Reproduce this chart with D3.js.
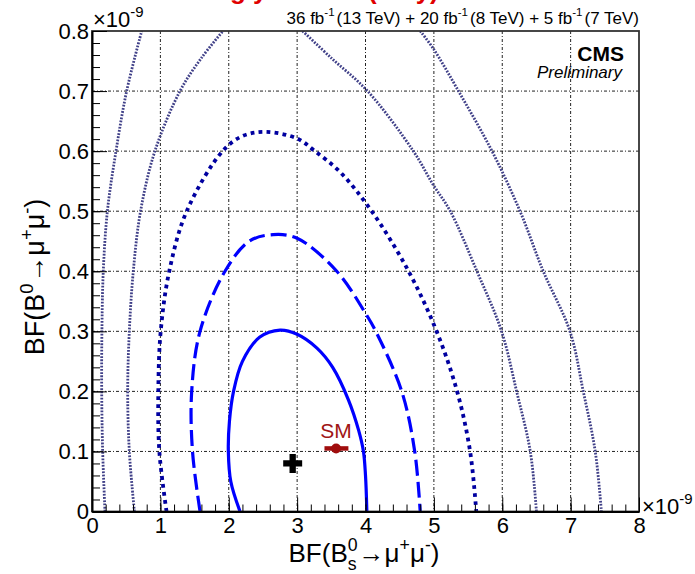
<!DOCTYPE html>
<html>
  <head>
    <style>
      body { margin: 0; background: #fff; }
      svg { font-family: "Liberation Sans", Arial, sans-serif; }
      .grid line { stroke: #222; stroke-width: 1; stroke-dasharray: 3,2,1,2; }
      .axis path, .axis line { stroke: #000; }
    </style>
    <script src="https://d3js.org/d3.v7.min.js"></script>
  </head>
  <body>
    <svg id="chart" width="695" height="574"></svg>

    <script>
      // values in units of 1e-9
      var xTicks = [0, 1, 2, 3, 4, 5, 6, 7, 8];
      var yTicks = [0, 0.1, 0.2, 0.3, 0.4, 0.5, 0.6, 0.7, 0.8];

      // 1 sigma (solid)
      var contour1 = [[2.165,0],[2.03,0.05],[1.994,0.1],[2.01,0.15],[2.07,0.2],[2.2,0.25],[2.45,0.29],
        [2.75,0.302],[3.0,0.295],[3.29,0.272],[3.52,0.24],[3.75,0.186],[3.90,0.135],[3.97,0.1],[4.0,0.06],[4.02,0]];
      // 2 sigma (dashed)
      var contour2 = [[1.58,0],[1.47,0.1],[1.458,0.2],[1.58,0.3],[1.945,0.4],[2.3,0.45],[2.65,0.461],
        [3.0,0.455],[3.58,0.4],[4.0,0.33],[4.15,0.3],[4.53,0.2],[4.72,0.1],[4.80,0]];
      // 3 sigma (thick dots)
      var contour3 = [[1.09,0],[0.985,0.1],[0.97,0.2],[1.005,0.3],[1.13,0.4],[1.385,0.5],[1.91,0.6],
        [2.2,0.625],[2.53,0.632],[3.0,0.621],[3.26,0.6],[3.63,0.565],[4.09,0.5],[4.63,0.4],[5.04,0.3],
        [5.34,0.2],[5.53,0.1],[5.62,0]];
      // 4 sigma (thin dots), two branches leaving the frame at the top
      var contour4L = [[0.62,0],[0.546,0.1],[0.522,0.2],[0.546,0.3],[0.604,0.4],[0.71,0.5],[0.92,0.6],
        [1.287,0.7],[1.60,0.755],[1.916,0.8]];
      var contour4R = [[3.08,0.8],[3.50,0.755],[4.03,0.70],[4.70,0.60],[4.99,0.544],[5.24,0.5],
        [5.63,0.4],[5.99,0.3],[6.21,0.2],[6.41,0.1],[6.50,0]];
      // 5 sigma (thin dots)
      var contour5L = [[0.19,0],[0.156,0.1],[0.142,0.2],[0.145,0.3],[0.165,0.4],[0.225,0.5],[0.351,0.6],
        [0.507,0.7],[0.727,0.8]];
      var contour5R = [[4.80,0.8],[4.99,0.771],[5.36,0.70],[5.85,0.60],[6.26,0.50],[6.60,0.40],
        [6.99,0.30],[7.185,0.20],[7.36,0.10],[7.45,0]];

      var bestFit = [2.935, 0.080];
      var smPoint = [3.57, 0.105];
      var smError = [3.40, 3.75];

      var svg = d3.select("#chart");
      var padL = 92, padR = 639, padT = 31, padB = 511.5;

      var x = d3.scaleLinear().domain([0, 8]).range([padL, padR]);
      var y = d3.scaleLinear().domain([0, 0.8]).range([padB, padT]);

      // helper for text built of several pieces (super/subscripts)
      function rich(parent, pieces, size) {
        var g = parent.append("g");
        var cx = 0;
        pieces.forEach(function(p) {
          var t = g.append("text")
            .attr("x", cx)
            .attr("y", (p.dy || 0) * size)
            .attr("font-size", size * (p.s || 1))
            .text(p.t);
          var w = t.node().getComputedTextLength();
          if (!p.stack) cx += w + (p.gap || 0);
        });
        return { g: g, width: cx };
      }

      // cut-off slide title at the very top
      svg.append("text").attr("x", 162).attr("y", -1).attr("font-size", 26)
        .attr("font-weight", "bold").attr("fill", "#e00000").text("Strongly");
      svg.append("text").attr("x", 368).attr("y", -1).attr("font-size", 26)
        .attr("font-weight", "bold").attr("fill", "#e00000").text("(only)");

      // grid
      var grid = svg.append("g").attr("class", "grid");
      grid.selectAll(".gx").data(xTicks.slice(1, -1)).enter().append("line")
        .attr("x1", d => x(d)).attr("x2", d => x(d)).attr("y1", padT).attr("y2", padB);
      grid.selectAll(".gy").data(yTicks.slice(1, -1)).enter().append("line")
        .attr("y1", d => y(d)).attr("y2", d => y(d)).attr("x1", padL).attr("x2", padR);

      // contours
      svg.append("clipPath").attr("id", "plotclip").append("rect")
        .attr("x", padL).attr("y", padT).attr("width", padR - padL).attr("height", padB - padT);

      var line = d3.line().x(d => x(d[0])).y(d => y(d[1])).curve(d3.curveCatmullRom.alpha(0.5));
      var plot = svg.append("g").attr("clip-path", "url(#plotclip)");

      function drawContour(data, color, width, dash) {
        plot.append("path").datum(data)
          .attr("d", line)
          .attr("fill", "none")
          .attr("stroke", color)
          .attr("stroke-width", width)
          .attr("stroke-dasharray", dash);
      }
      drawContour(contour5L, "#404088", 2.8, "1.8,1.4");
      drawContour(contour5R, "#404088", 2.8, "1.8,1.4");
      drawContour(contour4L, "#404088", 2.8, "1.8,1.4");
      drawContour(contour4R, "#404088", 2.8, "1.8,1.4");
      drawContour(contour3, "#0000a0", 3.8, "3.8,4.2");
      drawContour(contour2, "#0000ff", 3.2, "16,6");
      drawContour(contour1, "#0000ff", 3.2, null);

      // frame
      svg.append("rect").attr("x", padL).attr("y", padT)
        .attr("width", padR - padL).attr("height", padB - padT)
        .attr("fill", "none").attr("stroke", "#333").attr("stroke-width", 1.8);

      // axes: minor + major ticks pointing inward
      var minorX = d3.range(0, 8.001, 0.2);
      var minorY = d3.range(0, 0.8001, 0.02);

      svg.append("g").attr("class", "axis").attr("transform", "translate(0," + padB + ")")
        .call(d3.axisBottom(x).tickValues(minorX).tickSize(-7).tickFormat(""))
        .call(g => g.select(".domain").remove());
      svg.append("g").attr("class", "axis").attr("transform", "translate(" + padL + ",0)")
        .call(d3.axisLeft(y).tickValues(minorY).tickSize(-8).tickFormat(""))
        .call(g => g.select(".domain").remove());

      var xAxis = svg.append("g").attr("class", "axis").attr("transform", "translate(0," + padB + ")")
        .call(d3.axisBottom(x).tickValues(xTicks).tickSizeInner(-14).tickSizeOuter(0).tickPadding(6)
          .tickFormat(d3.format("d")));
      xAxis.selectAll("text").attr("font-size", 22).attr("fill", "#000")
        .attr("font-family", "Liberation Sans, Arial, sans-serif");
      xAxis.select(".domain").attr("stroke-width", 2);

      var yAxis = svg.append("g").attr("class", "axis").attr("transform", "translate(" + padL + ",0)")
        .call(d3.axisLeft(y).tickValues(yTicks).tickSizeInner(-15).tickSizeOuter(0).tickPadding(3)
          .tickFormat(d => d === 0 ? "0" : d3.format(".1f")(d)));
      yAxis.selectAll("text").attr("font-size", 22).attr("fill", "#000")
        .attr("font-family", "Liberation Sans, Arial, sans-serif");
      yAxis.select(".domain").attr("stroke-width", 2);

      // exponent labels
      var expTop = rich(svg, [{t: "\u00d710"}, {t: "-9", s: 0.68, dy: -0.45}], 22);
      expTop.g.attr("transform", "translate(" + (padL + 1) + ",27)");
      var expRight = rich(svg, [{t: "\u00d710"}, {t: "-9", s: 0.68, dy: -0.45}], 22);
      expRight.g.attr("transform", "translate(" + (padR + 3) + "," + (padB + 2) + ")");

      // luminosity header
      var lumi = rich(svg, [
        {t: "36 fb"}, {t: "-1", s: 0.68, dy: -0.45, gap: 2},
        {t: "(13 TeV) + 20 fb"}, {t: "-1", s: 0.68, dy: -0.45, gap: 2},
        {t: "(8 TeV) + 5 fb"}, {t: "-1", s: 0.68, dy: -0.45, gap: 2},
        {t: "(7 TeV)"}], 17);
      lumi.g.attr("transform", "translate(" + (padR - lumi.width) + ",24)");

      // CMS label
      svg.append("text").attr("x", 624).attr("y", 61).attr("text-anchor", "end")
        .attr("font-size", 21).attr("font-weight", "bold").text("CMS");
      svg.append("text").attr("x", 622).attr("y", 78).attr("text-anchor", "end")
        .attr("font-size", 17).attr("font-style", "italic").text("Preliminary");

      // axis titles
      var xTitle = rich(svg, [
        {t: "BF(B"}, {t: "0", s: 0.68, dy: -0.42, stack: true}, {t: "s", s: 0.68, dy: 0.3, gap: 2},
        {t: "\u2192\u03bc"}, {t: "+", s: 0.68, dy: -0.42}, {t: "\u03bc"}, {t: "-", s: 0.68, dy: -0.42},
        {t: ")"}], 26);
      xTitle.g.attr("transform", "translate(" + (364 - xTitle.width / 2) + ",562)");

      var yTitleHolder = svg.append("g").attr("transform", "translate(44,277) rotate(-90)");
      var yTitle = rich(yTitleHolder, [
        {t: "BF(B"}, {t: "0", s: 0.68, dy: -0.42, gap: 1},
        {t: "\u2192\u03bc"}, {t: "+", s: 0.68, dy: -0.42}, {t: "\u03bc"}, {t: "-", s: 0.68, dy: -0.42},
        {t: ")"}], 27);
      yTitle.g.attr("transform", "translate(" + (-yTitle.width / 2) + ",0)");

      // SM prediction
      svg.append("line")
        .attr("x1", x(smError[0])).attr("x2", x(smError[1]))
        .attr("y1", y(smPoint[1])).attr("y2", y(smPoint[1]))
        .attr("stroke", "#a00d0d").attr("stroke-width", 4.5);
      svg.append("circle").attr("cx", x(smPoint[0])).attr("cy", y(smPoint[1])).attr("r", 5)
        .attr("fill", "#a00d0d");
      svg.append("text").attr("x", x(smPoint[0])).attr("y", y(smPoint[1]) - 10)
        .attr("text-anchor", "middle").attr("font-size", 21).attr("fill", "#a01515").text("SM");

      // best fit
      svg.append("path")
        .attr("d", d3.symbol().type(d3.symbolCross).size(200)())
        .attr("transform", "translate(" + x(bestFit[0]) + "," + y(bestFit[1]) + ")")
        .attr("fill", "#000");
    </script>
  </body>
</html>
